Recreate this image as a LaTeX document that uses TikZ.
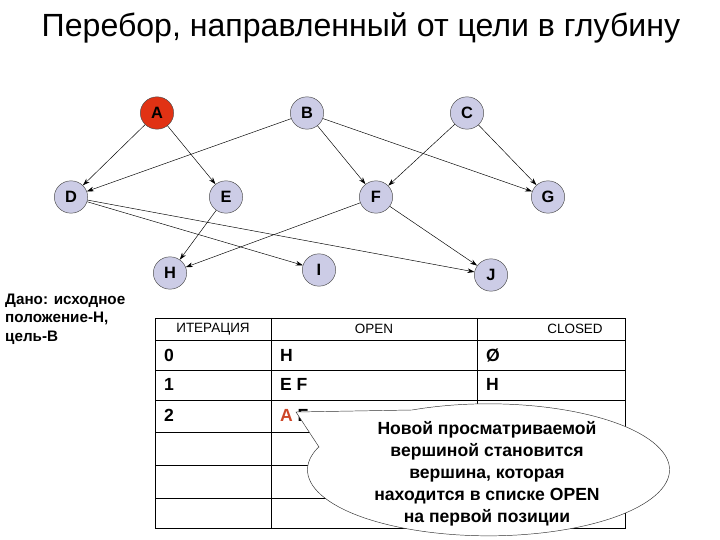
\documentclass[tikz,border=0pt]{standalone}
\usepackage{fontspec}
\setmainfont{Liberation Sans}
\usetikzlibrary{shapes.geometric,arrows.meta}
\definecolor{nodefill}{RGB}{204,204,230}
\definecolor{redA}{RGB}{225,50,20}
\definecolor{redT}{RGB}{205,70,40}
\begin{document}
\begin{tikzpicture}[x=0.03cm,y=-0.03cm,
  vx/.style={ellipse,draw=black!70,fill=nodefill,minimum width=1.0cm,minimum height=0.97cm,inner sep=0pt,font=\bfseries\fontsize{14}{16}\selectfont},
  edge/.style={-{Stealth[length=6pt,width=4pt]},thin},
  cell/.style={font=\bfseries\fontsize{15}{17}\selectfont,anchor=west},
  hdr/.style={font=\fontsize{11.5}{13}\selectfont}]
\useasboundingbox (0,0) rectangle (720,540);
\node (title) at (361,28) {\fontsize{27.4}{32}\selectfont Перебор, направленный от цели в глубину};
\node[vx,fill=redA] (A) at (157,113) {A};
\node[vx] (B) at (307,113) {B};
\node[vx] (C) at (467,113) {C};
\node[vx] (D) at (71,197) {D};
\node[vx] (E) at (226,197) {E};
\node[vx] (F) at (376,197) {F};
\node[vx] (G) at (548,197) {G};
\node[vx] (H) at (170,273) {H};
\node[vx] (I) at (319,270) {I};
\node[vx] (J) at (491,275) {J};
\draw[edge] (A) -- (D); \draw[edge] (A) -- (E);
\draw[edge] (B) -- (D); \draw[edge] (B) -- (F); \draw[edge] (B) -- (G);
\draw[edge] (C) -- (F); \draw[edge] (C) -- (G);
\draw[edge] (D) -- (I); \draw[edge] (D) -- (J);
\draw[edge] (E) -- (H); \draw[edge] (F) -- (H); \draw[edge] (F) -- (J);
\node[align=left,anchor=north west,font=\bfseries\fontsize{13}{15.5}\selectfont,inner sep=0pt] (dano) at (5,294) {Дано: исходное\\положение-Н,\\цель-В};
% table
\draw[thick] (155,318) rectangle (625,528);
\foreach \yy in {340,370,400,432,465,498} \draw (155,\yy) -- (625,\yy);
\draw (271,318) -- (271,528); \draw (477,318) -- (477,528);
\node[hdr] (h1) at (213,329) {ИТЕРАЦИЯ};
\node[hdr] (h2) at (374,329) {OPEN};
\node[hdr] (h3) at (575,329) {CLOSED};
\node[cell] (r0a) at (160,355) {0}; \node[cell] (r0b) at (276,355) {H}; \node[cell] (r0c) at (482,355) {Ø};
\node[cell] (r1a) at (160,384) {1}; \node[cell] (r1b) at (276,384) {E F}; \node[cell] (r1c) at (482,384) {H};
\node[cell] (r2a) at (160,415) {2}; \node[cell] (r2b) at (276,415) {\textcolor{redT}{A} F};
% callout
\coordinate (tip) at (296,412);
\coordinate (p1) at (412,410);
\coordinate (p2) at (319,447);
\filldraw[fill=white,draw=black!80,thin] (p2) -- (tip) -- (p1) arc[start angle=115,end angle=-200,x radius=5.43cm,y radius=1.98cm] -- cycle;
\node[align=center,font=\bfseries\fontsize{15}{18.7}\selectfont] (callout) at (487,474) {Новой просматриваемой\\вершиной становится\\вершина, которая\\находится в списке OPEN\\на первой позиции};
\end{tikzpicture}
\end{document}
